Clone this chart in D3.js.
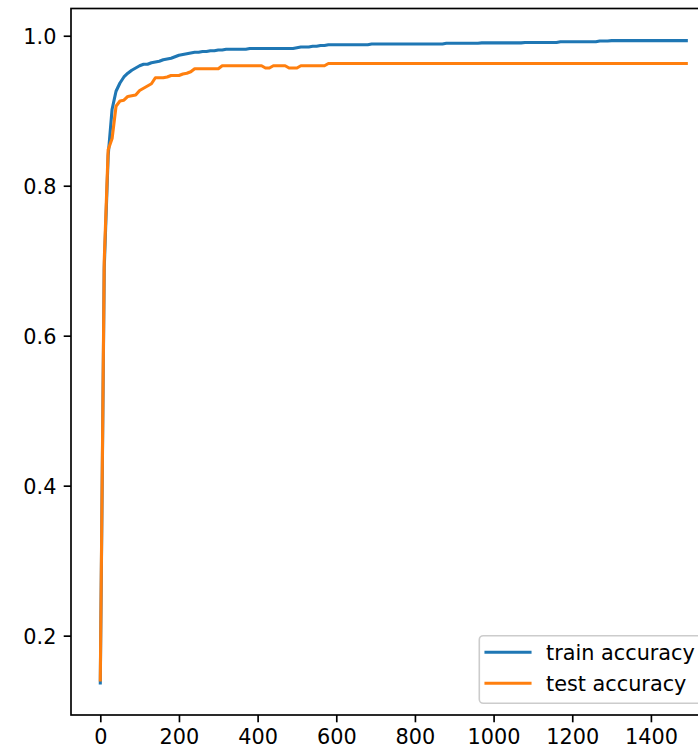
<!DOCTYPE html>
<html><head><meta charset="utf-8">
<script src="https://cdn.jsdelivr.net/npm/d3@7"></script>
<style>html,body{margin:0;padding:0;background:#fff;overflow:hidden}svg{display:block}</style>
</head><body><svg id="c" width="698" height="749"></svg>
<script>
const steps = [
0,10,20,30,40,50,60,70,80,90,
100,110,120,130,140,150,160,170,180,190,
200,210,220,230,240,250,260,270,280,290,
300,310,320,330,340,350,360,370,380,390,
400,410,420,430,440,450,460,470,480,490,
500,510,520,530,540,550,560,570,580,590,
600,610,620,630,640,650,660,670,680,690,
700,710,720,730,740,750,760,770,780,790,
800,810,820,830,840,850,860,870,880,890,
900,910,920,930,940,950,960,970,980,990,
1000,1010,1020,1030,1040,1050,1060,1070,1080,1090,
1100,1110,1120,1130,1140,1150,1160,1170,1180,1190,
1200,1210,1220,1230,1240,1250,1260,1270,1280,1290,
1300,1310,1320,1330,1340,1350,1360,1370,1380,1390,
1400,1410,1420,1430,1440,1450,1460,1470,1480,1490];
const trainAccuracy = [
0.137,0.69,0.84,0.902,0.926,0.937,0.945,0.950,0.954,0.957,
0.960,0.962,0.962,0.964,0.965,0.966,0.968,0.969,0.970,0.972,
0.974,0.975,0.976,0.977,0.978,0.978,0.979,0.979,0.980,0.980,
0.981,0.981,0.982,0.982,0.982,0.982,0.982,0.982,0.983,0.983,
0.983,0.983,0.983,0.983,0.983,0.983,0.983,0.983,0.983,0.983,
0.984,0.985,0.985,0.985,0.986,0.986,0.987,0.987,0.988,0.988,
0.988,0.988,0.988,0.988,0.988,0.988,0.988,0.988,0.988,0.989,
0.989,0.989,0.989,0.989,0.989,0.989,0.989,0.989,0.989,0.989,
0.989,0.989,0.989,0.989,0.989,0.989,0.989,0.989,0.990,0.990,
0.990,0.990,0.990,0.990,0.990,0.990,0.990,0.9905,0.9905,0.9905,
0.9905,0.9905,0.9905,0.9905,0.9905,0.9905,0.9905,0.9905,0.991,0.991,
0.991,0.991,0.991,0.991,0.991,0.991,0.991,0.992,0.992,0.992,
0.992,0.992,0.992,0.992,0.992,0.992,0.992,0.993,0.993,0.993,
0.9935,0.9935,0.9935,0.9935,0.9935,0.9935,0.9935,0.9935,0.9935,0.9935,
0.9935,0.9935,0.9935,0.9935,0.9935,0.9935,0.9935,0.9935,0.9935,0.9935];
const testAccuracy = [
0.141,0.70,0.848,0.863,0.906,0.913,0.914,0.919,0.920,0.921,
0.927,0.930,0.933,0.936,0.944,0.944,0.944,0.945,0.947,0.947,
0.947,0.949,0.950,0.952,0.956,0.956,0.956,0.956,0.956,0.956,
0.956,0.960,0.960,0.960,0.960,0.960,0.960,0.960,0.960,0.960,
0.960,0.960,0.957,0.957,0.960,0.960,0.960,0.960,0.957,0.957,
0.957,0.960,0.960,0.960,0.960,0.960,0.960,0.960,0.963,0.963,
0.963,0.963,0.963,0.963,0.963,0.963,0.963,0.963,0.963,0.963,
0.963,0.963,0.963,0.963,0.963,0.963,0.963,0.963,0.963,0.963,
0.963,0.963,0.963,0.963,0.963,0.963,0.963,0.963,0.963,0.963,
0.963,0.963,0.963,0.963,0.963,0.963,0.963,0.963,0.963,0.963,
0.963,0.963,0.963,0.963,0.963,0.963,0.963,0.963,0.963,0.963,
0.963,0.963,0.963,0.963,0.963,0.963,0.963,0.963,0.963,0.963,
0.963,0.963,0.963,0.963,0.963,0.963,0.963,0.963,0.963,0.963,
0.963,0.963,0.963,0.963,0.963,0.963,0.963,0.963,0.963,0.963,
0.963,0.963,0.963,0.963,0.963,0.963,0.963,0.963,0.963,0.963];
const seriesNames = ["train accuracy", "test accuracy"];
const seriesColors = ["#1f77b4", "#ff7f0e"];
const xTicks = [0,200,400,600,800,1000,1200,1400];
const yTicks = [0.2,0.4,0.6,0.8,1.0];
const yTickLabels = ["0.2","0.4","0.6","0.8","1.0"];

const svg = d3.select("#c");
const L = 71, T = 8.5, B = 715, R = 715.6;
const FONT = "'DejaVu Sans', sans-serif", FS = 20.8;

const xMin = d3.min(steps), xMax = d3.max(steps);
const xPad = (xMax - xMin) * 0.05;
const allY = trainAccuracy.concat(testAccuracy);
const yMin = d3.min(allY), yMax = d3.max(allY);
const yPad = (yMax - yMin) * 0.05;
const x = d3.scaleLinear().domain([xMin - xPad, xMax + xPad]).range([L, R]);
const y = d3.scaleLinear().domain([yMin - yPad, yMax + yPad]).range([B, T]);

svg.append("defs").append("clipPath").attr("id","clip")
  .append("rect").attr("x",L).attr("y",T).attr("width",R-L).attr("height",B-T);

const series = [trainAccuracy, testAccuracy];
const line = d3.line().x((d,i)=>x(steps[i])).y(d=>y(d));
const g = svg.append("g").attr("clip-path","url(#clip)");
series.forEach((s,k)=>{
  g.append("path").datum(s).attr("d", line)
   .attr("fill","none").attr("stroke",seriesColors[k]).attr("stroke-width",3.1)
   .attr("stroke-linejoin","round").attr("stroke-linecap","square");
});

// axes
const tickLen = 7.3, pad = 7.3;
const xAxis = d3.axisBottom(x).tickValues(xTicks).tickSize(tickLen).tickPadding(pad).tickFormat(d3.format("d"));
const gx = svg.append("g").attr("transform",`translate(0,${B})`).call(xAxis);
gx.select(".domain").remove();
gx.selectAll("line").attr("stroke","#000").attr("stroke-width",1.67);
gx.selectAll("text").attr("font-family",FONT).attr("font-size",FS).attr("fill","#000")
  .attr("dy",null).attr("y",29);

const yAxis = d3.axisLeft(y).tickValues(yTicks).tickSize(tickLen).tickPadding(pad).tickFormat((d,i)=>yTickLabels[i]);
const gy = svg.append("g").attr("transform",`translate(${L},0)`).call(yAxis);
gy.select(".domain").remove();
gy.selectAll("line").attr("stroke","#000").attr("stroke-width",1.67);
gy.selectAll("text").attr("font-family",FONT).attr("font-size",FS).attr("fill","#000")
  .attr("dy","0.36em");

// spines
const sp = svg.append("g").attr("stroke","#000").attr("stroke-width",1.67).attr("fill","none");
sp.append("rect").attr("x",L).attr("y",T).attr("width",R-L).attr("height",B-T);

// legend
const lg = svg.append("g");
lg.append("rect").attr("x",479.3).attr("y",635.7).attr("width",228).attr("height",67.6)
  .attr("rx",4).attr("fill","#fff").attr("fill-opacity",0.8)
  .attr("stroke","#cccccc").attr("stroke-width",1.6);
seriesNames.forEach((n,k)=>{
  const cy = 652.3 + k*31;
  lg.append("line").attr("x1",486).attr("x2",530).attr("y1",cy).attr("y2",cy)
    .attr("stroke",seriesColors[k]).attr("stroke-width",3.1).attr("stroke-linecap","square");
  lg.append("text").attr("x",546).attr("y",cy+8).text(n)
    .attr("font-family",FONT).attr("font-size",FS).attr("fill","#000");
});
</script></body></html>
